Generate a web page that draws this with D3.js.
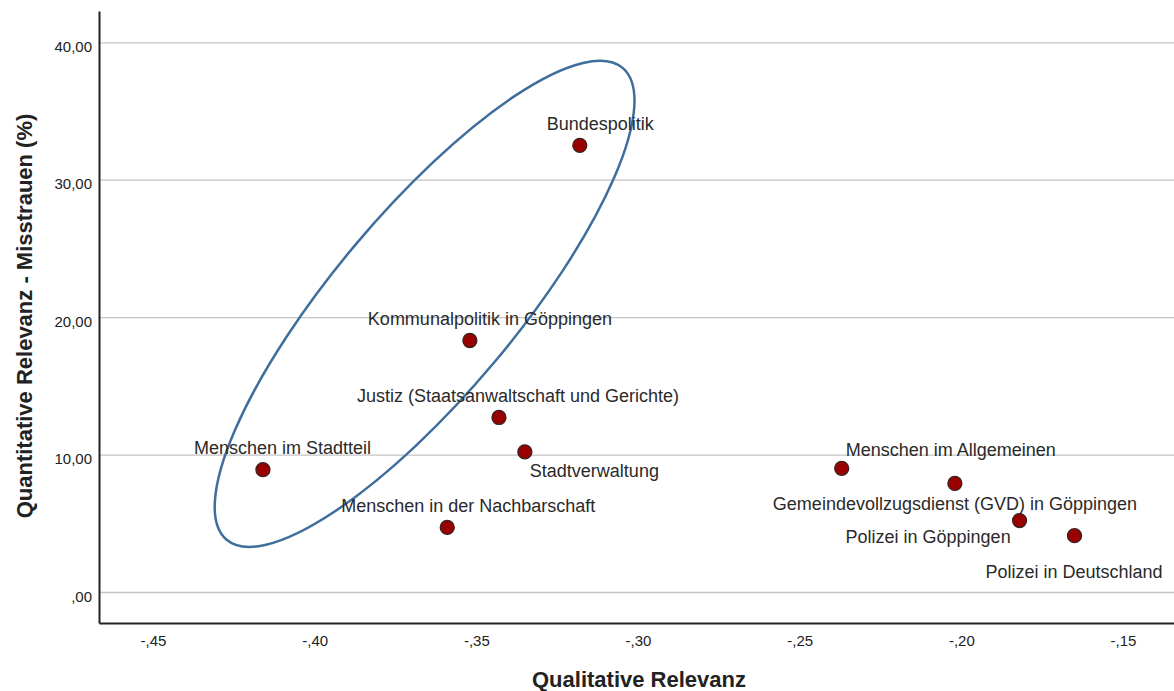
<!DOCTYPE html>
<html>
<head>
<meta charset="utf-8">
<script src="https://cdn.jsdelivr.net/npm/d3@7"></script>
<style>
  body { margin: 0; background: #fff; }
  svg { display: block; font-family: "Liberation Sans", Arial, sans-serif; }
</style>
</head>
<body>
<svg width="1174" height="691"></svg>
<script>
// Data
const categories = [
    "Bundespolitik",
    "Kommunalpolitik in Göppingen",
    "Justiz (Staatsanwaltschaft und Gerichte)",
    "Stadtverwaltung",
    "Menschen im Stadtteil",
    "Menschen in der Nachbarschaft",
    "Menschen im Allgemeinen",
    "Gemeindevollzugsdienst (GVD) in Göppingen",
    "Polizei in Göppingen",
    "Polizei in Deutschland"
];
const qualitative = [-0.318, -0.352, -0.343, -0.335, -0.416, -0.359, -0.237, -0.202, -0.182, -0.165];
const quantitative = [32.5, 18.3, 12.7, 10.2, 8.9, 4.7, 9.0, 7.9, 5.2, 4.1];

const xTicks = [-0.45, -0.40, -0.35, -0.30, -0.25, -0.20, -0.15];
const yTicks = [0, 10, 20, 30, 40];

// Group highlighted by the ellipse (centre in data units)
const ellipseCenter = [-0.366, 20.97];

// Label placement relative to each point (pixels, start-anchored)
const labelOffset = {
    "Bundespolitik": [-33, -15],
    "Kommunalpolitik in Göppingen": [-102, -16],
    "Justiz (Staatsanwaltschaft und Gerichte)": [-142, -15],
    "Stadtverwaltung": [5, 25],
    "Menschen im Stadtteil": [-69, -16],
    "Menschen in der Nachbarschaft": [-106, -15],
    "Menschen im Allgemeinen": [4, -12],
    "Gemeindevollzugsdienst (GVD) in Göppingen": [-182, 27],
    "Polizei in Göppingen": [-174, 22],
    "Polizei in Deutschland": [-89, 42]
};

const data = categories.map((c, i) => ({ name: c, x: qualitative[i], y: quantitative[i] }));

//Variables
const plot_left = 99, plot_right = 1174, plot_top = 11, plot_bottom = 623;

// German number style: ",00", "-,45", "40,00"
function fmt(v) {
    let s = Math.abs(v).toFixed(2).replace(/^0\./, ".").replace(".", ",");
    return (v < 0 ? "-" : "") + s;
}

let svg = d3.select("svg");

//Scales
let xscale = d3.scaleLinear().domain([-0.4667, -0.13423]).range([plot_left, plot_right]);
let yscale = d3.scaleLinear().domain([-2.2545, 42.276]).range([plot_bottom, plot_top]);

//Gridlines
svg.append("g")
    .attr("transform", `translate(${plot_left}, 0)`)
    .call(d3.axisLeft(yscale).tickValues(yTicks).tickSize(-(plot_right - plot_left)).tickFormat(""))
    .call(g => g.select(".domain").remove())
    .call(g => g.selectAll("line").attr("stroke", "#c4c4c4").attr("stroke-width", 1.3));

//Axes
svg.append("g")
    .attr("transform", `translate(0, ${plot_bottom})`)
    .call(d3.axisBottom(xscale).tickValues(xTicks).tickSize(0).tickSizeOuter(0).tickPadding(12).tickFormat(fmt))
    .call(g => g.select(".domain").attr("stroke", "#222").attr("stroke-width", 2))
    .call(g => g.selectAll("text").attr("font-size", 15).attr("fill", "#222")
        .attr("font-family", "Liberation Sans, Arial, sans-serif"));

svg.append("g")
    .attr("transform", `translate(${plot_left}, 0)`)
    .call(d3.axisLeft(yscale).tickValues(yTicks).tickSize(0).tickSizeOuter(0).tickPadding(7).tickFormat(fmt))
    .call(g => g.select(".domain").attr("stroke", "#222").attr("stroke-width", 2))
    .call(g => g.selectAll("text").attr("font-size", 15).attr("fill", "#222").attr("dy", "0.6em")
        .attr("font-family", "Liberation Sans, Arial, sans-serif"));

//Axis titles
svg.append("text")
    .attr("x", 639)
    .attr("y", 687)
    .attr("text-anchor", "middle")
    .attr("font-size", 22)
    .attr("font-weight", "bold")
    .attr("fill", "#222")
    .text("Qualitative Relevanz");

svg.append("text")
    .attr("transform", "translate(32, 316) rotate(-90)")
    .attr("text-anchor", "middle")
    .attr("font-size", 22)
    .attr("font-weight", "bold")
    .attr("fill", "#222")
    .text("Quantitative Relevanz - Misstrauen (%)");

//Ellipse
svg.append("ellipse")
    .attr("cx", xscale(ellipseCenter[0]))
    .attr("cy", yscale(ellipseCenter[1]))
    .attr("rx", 308)
    .attr("ry", 91)
    .attr("transform", `rotate(-50, ${xscale(ellipseCenter[0])}, ${yscale(ellipseCenter[1])})`)
    .attr("fill", "none")
    .attr("stroke", "#3f6e9c")
    .attr("stroke-width", 2.5);

//Points
svg.append("g")
    .selectAll("circle")
    .data(data)
    .enter().append("circle")
    .attr("cx", d => xscale(d.x))
    .attr("cy", d => yscale(d.y))
    .attr("r", 7)
    .attr("fill", "#990000")
    .attr("stroke", "#3a2222")
    .attr("stroke-width", 1.3);

//Labels
svg.append("g")
    .selectAll("text")
    .data(data)
    .enter().append("text")
    .attr("x", d => xscale(d.x) + labelOffset[d.name][0])
    .attr("y", d => yscale(d.y) + labelOffset[d.name][1])
    .attr("font-size", 18)
    .attr("fill", "#2a2a2a")
    .text(d => d.name);
</script>
</body>
</html>
